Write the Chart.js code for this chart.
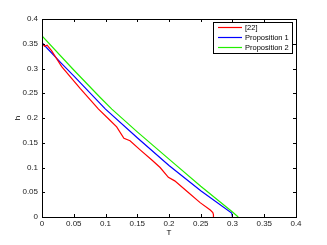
<!DOCTYPE html>
<html><head><meta charset="utf-8">
<script src="https://cdn.jsdelivr.net/npm/chart.js@4.4.1/dist/chart.umd.min.js"></script>
<style>html,body{margin:0;padding:0;background:#fff}#wrap{width:327px;height:245px}</style>
</head><body><div id="wrap"><canvas id="c" width="327" height="245"></canvas></div>
<script>
const seriesNames = ["[22]", "Proposition 1", "Proposition 2"];
const redT = [0, 0.004, 0.008, 0.015, 0.031, 0.06, 0.089, 0.105, 0.1176, 0.129, 0.1386, 0.155, 0.173, 0.186, 0.199, 0.209, 0.23, 0.249, 0.265, 0.269, 0.27, 0.27];
const redH = [0.352, 0.345, 0.347, 0.336, 0.304, 0.26, 0.218, 0.198, 0.182, 0.159, 0.154, 0.135, 0.115, 0.1, 0.08, 0.073, 0.05, 0.029, 0.014, 0.009, 0.005, 0];
const blueT = [0, 0.031, 0.05, 0.1, 0.15, 0.2, 0.25, 0.2987, 0.3];
const blueH = [0.352, 0.31, 0.285, 0.218, 0.16, 0.104, 0.053, 0.008, 0];
const greenT = [0, 0.05, 0.0913, 0.11, 0.15, 0.2, 0.25, 0.3, 0.309];
const greenH = [0.366, 0.297, 0.242, 0.218, 0.172, 0.117, 0.062, 0.01, 0];
const xTicks = [0, 0.05, 0.1, 0.15, 0.2, 0.25, 0.3, 0.35, 0.4];
const yTicks = [0, 0.05, 0.1, 0.15, 0.2, 0.25, 0.3, 0.35, 0.4];
const colors = ["#ff0000", "#0000ff", "#22ee00"];

function pts(t, h){ return t.map((v,i)=>({x:v, y:h[i]})); }
const FONT = "Liberation Sans, Arial, sans-serif";

const boxPlugin = {
  id: 'box',
  afterDraw(chart){
    const ctx = chart.ctx, a = chart.chartArea;
    const xs = chart.scales.x, ys = chart.scales.y;
    ctx.save();
    ctx.strokeStyle = '#000'; ctx.lineWidth = 1;
    ctx.strokeRect(Math.round(a.left)+0.5, Math.round(a.top)+0.5, Math.round(a.right-a.left), Math.round(a.bottom-a.top));
    ctx.beginPath();
    const L = 3;
    xTicks.forEach(v=>{ const p = Math.round(xs.getPixelForValue(v))+0.5;
      ctx.moveTo(p, a.bottom); ctx.lineTo(p, a.bottom-L);
      ctx.moveTo(p, a.top); ctx.lineTo(p, a.top+L); });
    yTicks.forEach(v=>{ const p = Math.round(ys.getPixelForValue(v))+0.5;
      ctx.moveTo(a.left, p); ctx.lineTo(a.left+L, p);
      ctx.moveTo(a.right, p); ctx.lineTo(a.right-L, p); });
    ctx.stroke();
    // legend
    const lx = 213, ly = 22, lw = 79, lh = 31;
    ctx.fillStyle = '#fff';
    ctx.fillRect(lx, ly, lw, lh);
    ctx.strokeStyle = '#000';
    ctx.strokeRect(lx+0.5, ly+0.5, lw, lh);
    ctx.font = '7.5px ' + FONT;
    ctx.textBaseline = 'middle';
    chart.data.datasets.forEach((d,i)=>{
      const y = ly + 5.5 + i*10;
      ctx.strokeStyle = d.borderColor; ctx.lineWidth = 1.2;
      ctx.beginPath(); ctx.moveTo(lx+5, y); ctx.lineTo(lx+29, y); ctx.stroke();
      ctx.fillStyle = '#000';
      ctx.fillText(d.label, lx+32, y);
    });
    ctx.restore();
  }
};

new Chart(document.getElementById('c'), {
  type: 'scatter',
  data: { datasets: [
    {label: seriesNames[0], data: pts(redT, redH), borderColor: colors[0], backgroundColor: colors[0]},
    {label: seriesNames[1], data: pts(blueT, blueH), borderColor: colors[1], backgroundColor: colors[1]},
    {label: seriesNames[2], data: pts(greenT, greenH), borderColor: colors[2], backgroundColor: colors[2]}
  ].map(d=>Object.assign(d, {showLine:true, pointRadius:0, borderWidth:1.2, tension:0}))},
  options: {
    responsive:false, animation:false, devicePixelRatio:1,
    layout: {padding: {left:0, top:19, right:31, bottom:0}},
    plugins: {legend:{display:false}, tooltip:{enabled:false}},
    scales: {
      x: { type:'linear', min:0, max:0.4,
        afterBuildTicks: s => { s.ticks = xTicks.map(v=>({value:v})); },
        afterFit: s => { s.height = 28; },
        grid: {display:false, drawTicks:false}, border:{display:false},
        ticks: {font:{size:8, family:FONT}, color:'#222', padding:2, maxRotation:0,
          callback: v => String(v)},
        title: {display:true, text:'T', font:{size:8, family:FONT}, color:'#000', padding:{top:0,bottom:7}}
      },
      y: { type:'linear', min:0, max:0.4,
        afterBuildTicks: s => { s.ticks = yTicks.map(v=>({value:v})); },
        afterFit: s => { s.width = 42; },
        grid: {display:false, drawTicks:false}, border:{display:false},
        ticks: {font:{size:8, family:FONT}, color:'#222', padding:4,
          callback: v => String(v)},
        title: {display:true, text:'h', font:{size:8, family:FONT}, color:'#000', padding:{top:13,bottom:0}}
      }
    }
  },
  plugins: [boxPlugin]
});
</script></body></html>
